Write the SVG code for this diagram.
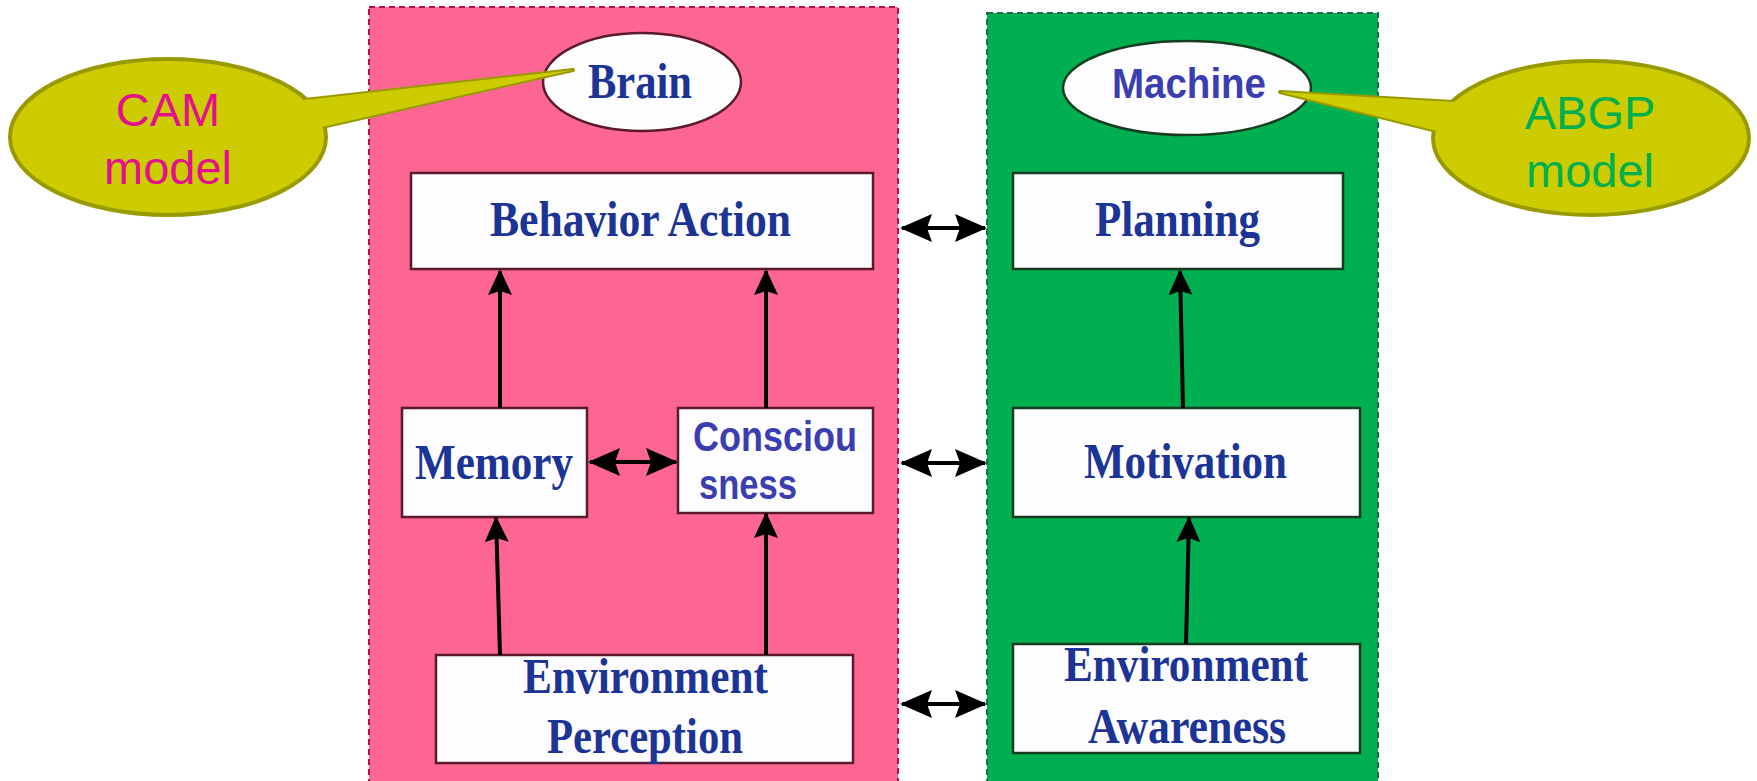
<svg xmlns="http://www.w3.org/2000/svg" width="1757" height="781" viewBox="0 0 1757 781">
<style>
.box{fill:#fdfdff;stroke-width:2.5}
.pk{stroke:#5a1a2c}
.gn{stroke:#163c22}
.serif{font-family:"Liberation Serif","Times New Roman",serif;font-weight:bold;font-size:50px;fill:#1c3496;text-anchor:middle}
.sans{font-family:"Liberation Sans",Arial,sans-serif;font-weight:bold;font-size:43px;fill:#3b3eb0}
.call{font-family:"Liberation Sans",Arial,sans-serif;font-size:47px;text-anchor:middle}
.bub{fill:#cccc00;stroke:#999900;stroke-width:4;stroke-linejoin:round}
.conn{stroke:#000;stroke-width:4;fill:none}
.one{marker-end:url(#ah)}
.two{marker-start:url(#ah2);marker-end:url(#ah2)}
</style>
<defs>
<marker id="ah" markerUnits="userSpaceOnUse" markerWidth="26" markerHeight="26" refX="24" refY="13" orient="auto-start-reverse" viewBox="0 0 26 26">
<path d="M0,1 L26,13 L0,25 L4,13 Z" fill="#000"/>
</marker>
<marker id="ah2" markerUnits="userSpaceOnUse" markerWidth="32" markerHeight="28" refX="30" refY="14" orient="auto-start-reverse" viewBox="0 0 32 28">
<path d="M0,0 L32,14 L0,28 L5,14 Z" fill="#000"/>
</marker>
</defs>
<rect width="1757" height="781" fill="#fff"/>
<g id="brain-panel">
<rect x="369" y="7" width="529" height="800" fill="#fd6593" stroke="#b3123e" stroke-width="2" stroke-dasharray="6 4"/>
</g>
<g id="machine-panel">
<rect x="987" y="13" width="391" height="800" fill="#00b050" stroke="#1d6a52" stroke-width="2" stroke-dasharray="6 4"/>
</g>
<g id="brain">
<ellipse cx="642" cy="82" rx="99" ry="49" class="box pk"/>
<text x="640" y="98" class="serif" font-size="52" textLength="104" lengthAdjust="spacingAndGlyphs">Brain</text>
</g>
<g id="machine">
<ellipse cx="1187" cy="88" rx="124" ry="47" class="box gn"/>
<text x="1189" y="98" class="sans" font-size="44" text-anchor="middle" textLength="154" lengthAdjust="spacingAndGlyphs">Machine</text>
</g>
<g id="behavior-action">
<rect x="411" y="173" width="462" height="96" class="box pk"/>
<text x="640.5" y="236" class="serif" textLength="301" lengthAdjust="spacingAndGlyphs">Behavior Action</text>
</g>
<g id="memory">
<rect x="402" y="408" width="185" height="109" class="box pk"/>
<text x="494" y="479" class="serif" textLength="158" lengthAdjust="spacingAndGlyphs">Memory</text>
</g>
<g id="consciousness">
<rect x="678" y="408" width="195" height="105" class="box pk"/>
<text x="693" y="451" class="sans" textLength="164" lengthAdjust="spacingAndGlyphs">Consciou</text>
<text x="699" y="499" class="sans" textLength="98" lengthAdjust="spacingAndGlyphs">sness</text>
</g>
<g id="environment-perception">
<rect x="436" y="655" width="417" height="108" class="box pk"/>
<text x="645.5" y="693" class="serif" textLength="245" lengthAdjust="spacingAndGlyphs">Environment</text>
<text x="645" y="753" class="serif" textLength="196" lengthAdjust="spacingAndGlyphs">Perception</text>
</g>
<g id="planning">
<rect x="1013" y="173" width="330" height="96" class="box gn"/>
<text x="1177.5" y="236" class="serif" textLength="165" lengthAdjust="spacingAndGlyphs">Planning</text>
</g>
<g id="motivation">
<rect x="1013" y="408" width="347" height="109" class="box gn"/>
<text x="1185.5" y="478" class="serif" textLength="203" lengthAdjust="spacingAndGlyphs">Motivation</text>
</g>
<g id="environment-awareness">
<rect x="1013" y="644" width="347" height="109" class="box gn"/>
<text x="1186" y="681" class="serif" textLength="244" lengthAdjust="spacingAndGlyphs">Environment</text>
<text x="1187" y="743" class="serif" textLength="198" lengthAdjust="spacingAndGlyphs">Awareness</text>
</g>
<g id="connectors">
<line x1="500" y1="408" x2="500" y2="271" class="conn one"/>
<line x1="766" y1="408" x2="766" y2="271" class="conn one"/>
<line x1="500" y1="655" x2="496" y2="518" class="conn one"/>
<line x1="766" y1="655" x2="766" y2="514" class="conn one"/>
<line x1="1183" y1="408" x2="1180" y2="271" class="conn one"/>
<line x1="1186" y1="644" x2="1189" y2="518" class="conn one"/>
<line x1="590" y1="462" x2="676" y2="462" class="conn two"/>
<line x1="902" y1="228" x2="985" y2="228" class="conn two"/>
<line x1="902" y1="463" x2="985" y2="463" class="conn two"/>
<line x1="902" y1="704" x2="985" y2="704" class="conn two"/>
</g>
<g id="cam-callout">
<polygon points="280,102.7 573,70 300,132" class="bub"/>
<ellipse cx="168" cy="137" rx="158" ry="78" class="bub"/>
<polygon points="280,102.7 573,70 300,132" fill="#cccc00"/>
<text x="168" y="126" class="call" fill="#e2108c">CAM</text>
<text x="168" y="184" class="call" fill="#e2108c">model</text>
</g>
<g id="abgp-callout">
<polygon points="1280,92 1475,103.3 1460,136.7" class="bub"/>
<ellipse cx="1591" cy="138" rx="158" ry="77" class="bub"/>
<polygon points="1280,92 1475,103.3 1460,136.7" fill="#cccc00"/>
<text x="1590" y="129" class="call" fill="#00b050">ABGP</text>
<text x="1590" y="187" class="call" fill="#00b050">model</text>
</g>
</svg>
